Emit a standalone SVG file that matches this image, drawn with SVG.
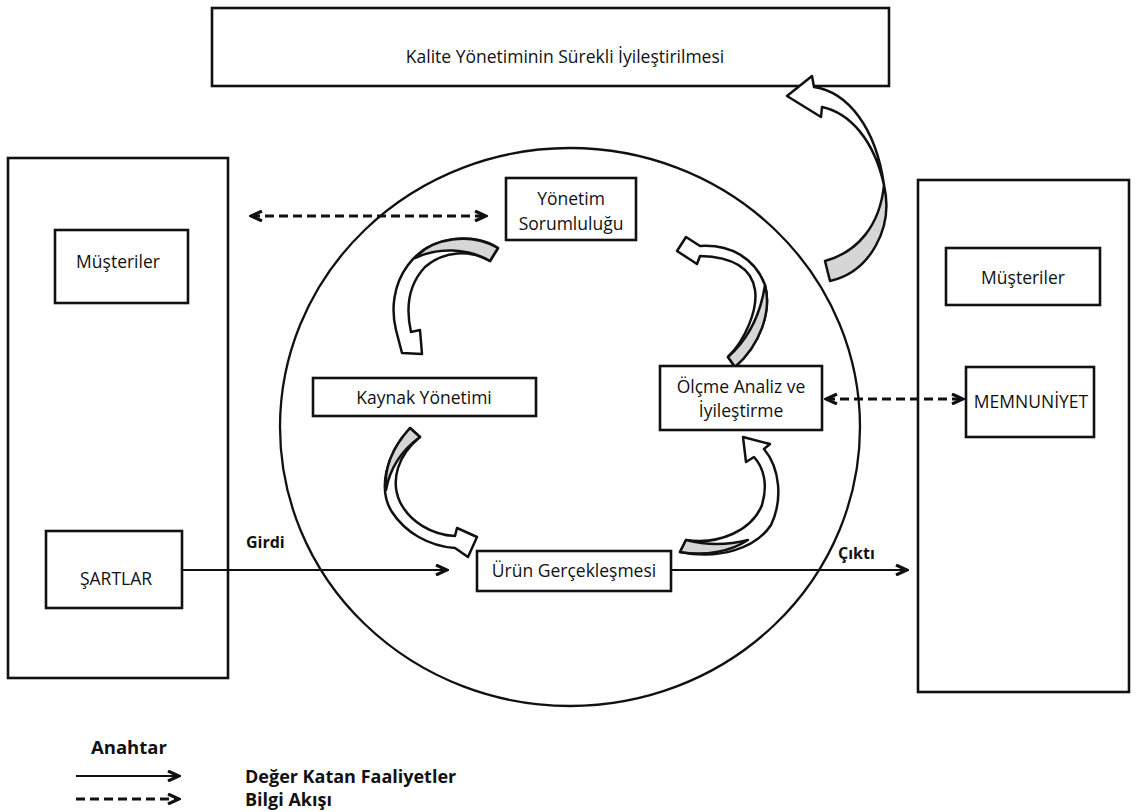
<svg xmlns="http://www.w3.org/2000/svg" width="1138" height="812" viewBox="0 0 1138 812">
  <style>
    .box { fill: #fff; stroke: #111; stroke-width: 2.6; }
    .frame { fill: none; stroke: #111; stroke-width: 2.6; }
    .lbl { font-family: "Open Sans", "Liberation Sans", sans-serif; font-size: 17.5px; fill: #111; text-anchor: middle; dominant-baseline: central; }
    .bold { font-family: "Open Sans", "Liberation Sans", sans-serif; font-weight: bold; fill: #111; dominant-baseline: central; }
    .flow { fill: none; stroke: #111; stroke-width: 2.2; }
    .info { fill: none; stroke: #111; stroke-width: 3.2; stroke-dasharray: 9 5; }
    .band { fill: #fff; stroke: #111; stroke-width: 2.5; stroke-linejoin: round; }
    .back { fill: #d6d6d6; stroke: #111; stroke-width: 2.5; stroke-linejoin: round; }
  </style>
  <defs>
    <marker id="chev" viewBox="0 0 14 12" markerWidth="14" markerHeight="12" refX="12" refY="6" orient="auto-start-reverse" markerUnits="userSpaceOnUse">
      <path d="M1,1 L12,6 L1,11" fill="none" stroke="#111" stroke-width="3.2" stroke-linejoin="miter"/>
    </marker>
  </defs>

  <rect width="1138" height="812" fill="#fff"/>

  <!-- outer frames and process ring -->
  <g id="kalite">
    <rect class="box" x="212" y="8" width="677" height="78"/>
    <text class="lbl" x="565" y="56">Kalite Yönetiminin Sürekli İyileştirilmesi</text>
  </g>
  <g id="sol-cerceve">
    <rect class="frame" x="8" y="158" width="220" height="520"/>
  </g>
  <g id="sag-cerceve">
    <rect class="frame" x="918" y="180" width="211" height="512"/>
  </g>
  <g id="surec-halkasi">
    <ellipse cx="570" cy="427" rx="290" ry="279" fill="none" stroke="#111" stroke-width="2.3"/>
  </g>

  <!-- connectors -->
  <g id="baglantilar">
    <line class="info" x1="251" y1="216" x2="486" y2="216" marker-start="url(#chev)" marker-end="url(#chev)"/>
    <line class="info" x1="826" y1="399" x2="963" y2="399" marker-start="url(#chev)" marker-end="url(#chev)"/>
    <line class="flow" x1="182" y1="570" x2="447" y2="570" marker-end="url(#chev)"/>
    <line class="flow" x1="671" y1="570" x2="907" y2="570" marker-end="url(#chev)"/>

    <!-- curved block arrows: white front face, grey back face -->
    <g id="ok-kalite">
      <path class="band" d="M787,96 L812,76 L814,87 C848,92 876,128 884,185 C874,140 850,113 822,107 L821,117 Z"/>
      <path class="back" d="M884,185 C894,228 870,272 830,281 L825,261 C858,252 880,225 884,185 Z"/>
    </g>
    <g id="ok-yonetim-kaynak">
      <path class="band" d="M498,248 C475,232 430,235 408,265 C393,285 391,310 396,330 L402,353 L422,354 L420,330 L411,332 C405,305 410,283 425,267 C445,250 470,250 490,261 Z"/>
      <path class="back" d="M498,248 C470,232 432,238 415,258 C438,247 468,248 490,261 Z"/>
    </g>
    <g id="ok-kaynak-urun">
      <path class="band" d="M410,428 C385,455 378,490 392,512 C405,532 428,546 455,548 L468,557 L477,537 L457,528 L455,536 C432,535 410,522 400,502 C390,480 398,455 420,437 Z"/>
      <path class="back" d="M410,428 C392,448 384,470 386,490 C390,468 402,450 420,437 Z"/>
    </g>
    <g id="ok-urun-olcme">
      <path class="band" d="M686,540 C720,545 752,530 762,505 C768,485 764,468 754,457 L746,462 L743,437 L770,444 L764,449 C780,468 783,500 771,525 C756,548 720,560 680,552 Z"/>
      <path class="back" d="M680,552 C705,556 730,552 748,540 C725,546 705,545 686,540 Z"/>
    </g>
    <g id="ok-olcme-yonetim">
      <path class="band" d="M728,357 C745,340 758,310 755,290 C752,270 735,257 700,256 L697,264 L677,251 L686,237 L700,246 C730,244 755,258 765,285 C772,310 760,345 735,367 Z"/>
      <path class="back" d="M765,285 C772,312 760,345 735,367 L728,357 C745,342 760,318 765,285 Z"/>
    </g>
  </g>

  <!-- nodes -->
  <g id="yonetim">
    <rect class="box" x="506" y="178" width="130" height="62"/>
    <text class="lbl" x="571" y="198">Yönetim</text>
    <text class="lbl" x="571" y="223">Sorumluluğu</text>
  </g>
  <g id="musteriler-sol">
    <rect class="box" x="55" y="230" width="133" height="73"/>
    <text class="lbl" x="118" y="261">Müşteriler</text>
  </g>
  <g id="kaynak">
    <rect class="box" x="313" y="378" width="223" height="38"/>
    <text class="lbl" x="424" y="397">Kaynak Yönetimi</text>
  </g>
  <g id="olcme">
    <rect class="box" x="660" y="366" width="162" height="64"/>
    <text class="lbl" x="741" y="386">Ölçme Analiz ve</text>
    <text class="lbl" x="741" y="410">İyileştirme</text>
  </g>
  <g id="musteriler-sag">
    <rect class="box" x="946" y="248" width="154" height="57"/>
    <text class="lbl" x="1023" y="277">Müşteriler</text>
  </g>
  <g id="memnuniyet">
    <rect class="box" x="966" y="367" width="128" height="70"/>
    <text class="lbl" x="1031" y="401" font-size="18.5">MEMNUNİYET</text>
  </g>
  <g id="sartlar">
    <rect class="box" x="46" y="531" width="136" height="77"/>
    <text class="lbl" x="116" y="578">ŞARTLAR</text>
  </g>
  <g id="urun">
    <rect class="box" x="477" y="551" width="194" height="40"/>
    <text class="lbl" x="574" y="570">Ürün Gerçekleşmesi</text>
  </g>

  <!-- flow labels -->
  <text class="bold" x="246" y="542" font-size="16">Girdi</text>
  <text class="bold" x="838" y="553" font-size="16">Çıktı</text>

  <!-- key -->
  <g id="anahtar">
    <text class="bold" x="91" y="746" font-size="18.5">Anahtar</text>
    <line class="flow" x1="76" y1="776" x2="179" y2="776" stroke-width="2.8" marker-end="url(#chev)"/>
    <line class="info" x1="76" y1="799" x2="179" y2="799" stroke-width="3" stroke-dasharray="8 5" marker-end="url(#chev)"/>
    <text class="bold" x="245" y="776" font-size="18">Değer Katan Faaliyetler</text>
    <text class="bold" x="245" y="799" font-size="18">Bilgi Akışı</text>
  </g>
</svg>
